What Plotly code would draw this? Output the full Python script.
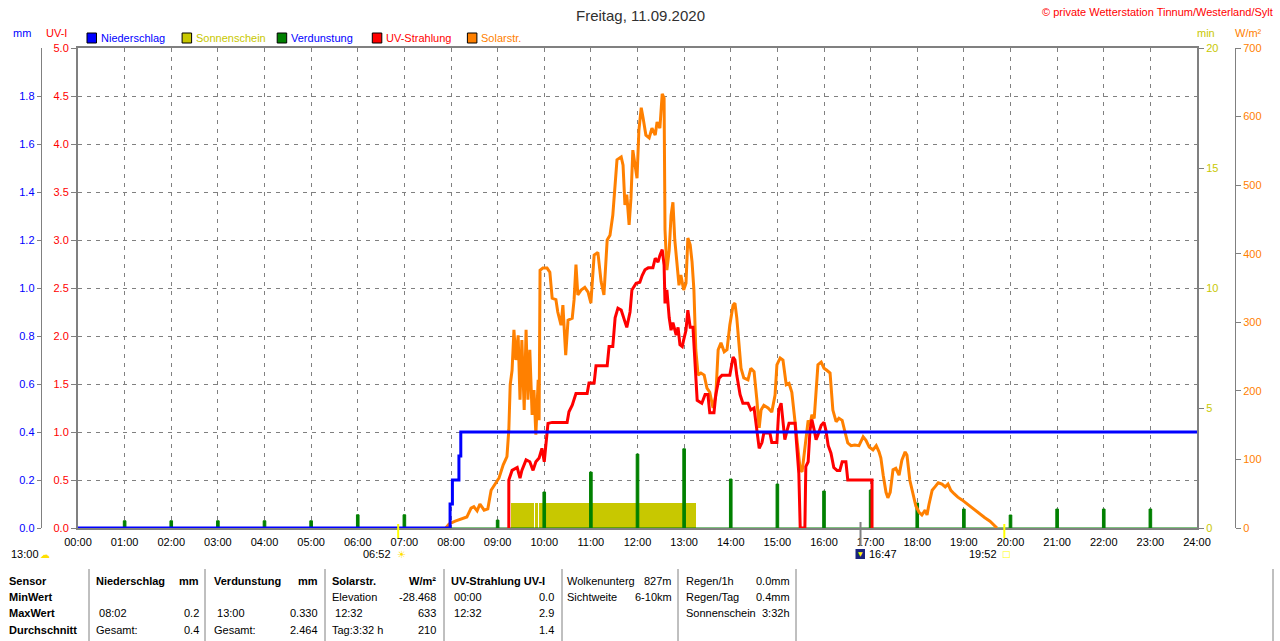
import plotly.graph_objects as go

# Wetterstation Tinnum - Tagesgang 11.09.2020, Zeit in Stunden (dezimal)

niederschlag_zeit = [0.0, 7.98, 8.03, 8.17, 8.21, 24.0]
niederschlag_mm = [0.0, 0.1, 0.2, 0.3, 0.4, 0.4]

sonne_von = [9.28, 9.80, 9.89]
sonne_bis = [9.77, 9.86, 13.25]
sonne_min = [1.04, 1.04, 1.04]

verdunstung_stunde = [0, 1, 2, 3, 4, 5, 6, 7, 8, 9, 10, 11, 12,
                      13, 14, 15, 16, 17, 18, 19, 20, 21, 22, 23, 24]
verdunstung_mm = [0.0, 0.03, 0.03, 0.03, 0.03, 0.03, 0.055, 0.055, 0.0, 0.033, 0.15, 0.233, 0.308,
                  0.33, 0.204, 0.183, 0.154, 0.158, 0.104, 0.079, 0.054, 0.079, 0.079, 0.079, 0.0]

uv_zeit = [9.24, 9.24, 9.31, 9.42, 9.48, 9.52, 9.61, 9.69, 9.76, 9.82, 9.89, 9.95, 10.00,
           10.04, 10.08, 10.17, 10.49, 10.53, 10.60, 10.68, 10.92, 10.96, 11.07, 11.11, 11.35,
           11.39, 11.47, 11.52, 11.58, 11.65, 11.71, 11.77, 11.84, 11.88, 11.97, 12.05, 12.10,
           12.16, 12.23, 12.33, 12.38, 12.44, 12.48, 12.53, 12.57, 12.59, 12.63, 12.68, 12.72,
           12.76, 12.83, 12.87, 12.91, 12.96, 12.99, 13.04, 13.08, 13.13, 13.19, 13.23, 13.28,
           13.38, 13.45, 13.51, 13.55, 13.64, 13.68, 13.75, 13.81, 13.98, 14.05, 14.09, 14.13,
           14.20, 14.26, 14.37, 14.43, 14.50, 14.56, 14.61, 14.67, 14.71, 14.84, 14.88, 14.99,
           15.03, 15.08, 15.12, 15.16, 15.21, 15.25, 15.38, 15.42, 15.46, 15.49, 15.59, 15.61,
           15.66, 15.70, 15.74, 15.79, 15.83, 15.87, 15.94, 16.00, 16.04, 16.09, 16.15, 16.21,
           16.28, 16.34, 16.39, 16.47, 16.51, 17.03, 17.03]
uv_index = [0.0, 0.5, 0.6, 0.63, 0.52, 0.6, 0.71, 0.69, 0.6, 0.69, 0.73, 0.83, 0.69,
            0.92, 1.09, 1.1, 1.1, 1.21, 1.28, 1.4, 1.4, 1.51, 1.51, 1.69, 1.69,
            1.89, 1.89, 2.19, 2.29, 2.27, 2.17, 2.09, 2.25, 2.48, 2.55, 2.56, 2.63,
            2.69, 2.71, 2.71, 2.81, 2.77, 2.84, 2.9, 2.74, 2.34, 2.48, 2.19, 2.06,
            2.14, 2.01, 2.09, 1.91, 1.89, 1.96, 2.06, 2.27, 2.09, 2.09, 1.75, 1.33,
            1.3, 1.39, 1.39, 1.2, 1.2, 1.39, 1.56, 1.59, 1.59, 1.78, 1.75, 1.59,
            1.39, 1.3, 1.3, 1.23, 1.25, 1.02, 0.83, 0.89, 0.99, 0.99, 0.89, 0.89,
            1.23, 1.3, 1.13, 0.92, 1.02, 1.09, 1.09, 0.78, 0.57, 0.0, 0.0, 0.64,
            0.69, 1.02, 1.13, 1.02, 0.92, 0.97, 1.07, 1.1, 1.02, 0.86, 0.78, 0.63,
            0.6, 0.6, 0.69, 0.69, 0.5, 0.5, 0.0]

solar_zeit = [7.89, 7.96, 8.09, 8.24, 8.34, 8.43, 8.49, 8.56, 8.62, 8.71, 8.79, 8.86,
              8.94, 9.03, 9.12, 9.20, 9.24, 9.27, 9.31, 9.35, 9.39, 9.44, 9.48, 9.52, 9.57,
              9.61, 9.65, 9.69, 9.74, 9.78, 9.82, 9.87, 9.89, 9.91, 9.97, 10.06, 10.12, 10.17,
              10.25, 10.29, 10.36, 10.40, 10.46, 10.51, 10.60, 10.64, 10.68, 10.72, 10.79,
              10.87, 10.94, 11.00, 11.07, 11.15, 11.22, 11.28, 11.35, 11.41, 11.47, 11.52,
              11.56, 11.65, 11.69, 11.73, 11.77, 11.82, 11.86, 11.90, 11.95, 11.99, 12.03,
              12.08, 12.12, 12.18, 12.25, 12.31, 12.38, 12.42, 12.48, 12.53, 12.57, 12.59,
              12.63, 12.68, 12.72, 12.76, 12.80, 12.85, 12.89, 12.93, 12.99, 13.04, 13.08,
              13.13, 13.17, 13.21, 13.25, 13.30, 13.36, 13.43, 13.49, 13.55, 13.62, 13.68,
              13.73, 13.79, 13.86, 13.92, 13.98, 14.05, 14.09, 14.13, 14.18, 14.22, 14.28,
              14.37, 14.43, 14.50, 14.56, 14.61, 14.65, 14.71, 14.80, 14.88, 14.95, 14.99,
              15.06, 15.12, 15.19, 15.25, 15.31, 15.36, 15.42, 15.49, 15.53, 15.57, 15.61,
              15.66, 15.70, 15.74, 15.79, 15.83, 15.87, 15.94, 16.00, 16.06, 16.13, 16.19,
              16.26, 16.32, 16.39, 16.45, 16.51, 16.58, 16.66, 16.75, 16.84, 16.90, 16.97,
              17.05, 17.12, 17.18, 17.22, 17.27, 17.33, 17.37, 17.42, 17.48, 17.54, 17.61,
              17.67, 17.74, 17.78, 17.84, 17.91, 17.97, 18.04, 18.10, 18.17, 18.21, 18.25,
              18.32, 18.38, 18.45, 18.53, 18.60, 18.66, 18.72, 18.79, 18.87, 18.96, 19.05,
              19.13, 19.24, 19.35, 19.45, 19.56, 19.65, 19.71]
solar_wm2 = [0, 6, 10, 13, 16, 29, 31, 25, 35, 26, 28, 55,
             64, 73, 92, 104, 143, 209, 230, 289, 245, 281, 187, 274, 172,
             289, 187, 260, 165, 201, 136, 216, 157, 376, 379, 379, 373, 335,
             333, 315, 296, 325, 252, 303, 306, 333, 384, 340, 347,
             351, 344, 328, 398, 402, 359, 340, 420, 427, 456, 508,
             537, 541, 529, 471, 486, 442, 481, 551, 529, 510, 580,
             613, 598, 573, 569, 583, 573, 592, 583, 633, 627, 435,
             376, 405, 456, 475, 420, 388, 354, 369, 347, 357, 423,
             413, 388, 347, 260, 223, 226, 223, 204, 198, 175, 194,
             260, 270, 257, 260, 296, 325, 328, 306, 267, 233, 219,
             216, 233, 228, 187, 146, 172, 179, 175, 169, 194, 238,
             248, 245, 209, 211, 198, 165, 121, 85, 82, 106, 128,
             157, 150, 165, 160, 194, 238, 242, 233, 230, 226, 172,
             155, 160, 157, 140, 124, 120, 121, 120, 133, 128, 118,
             114, 120, 111, 102, 77, 52, 44, 52, 85, 87, 77,
             99, 111, 106, 70, 48, 32, 23, 19, 26, 19, 34,
             55, 60, 66, 64, 60, 64, 55, 50, 45, 41, 36,
             32, 26, 20, 15, 10, 4, 0]

stunden_ticks = list(range(25))
stunden_text = ["%02d:00" % h for h in stunden_ticks]

legende_namen = ["Niederschlag", "Sonnenschein", "Verdunstung", "UV-Strahlung", "Solarstr."]

ereignis_zeit = [6.867, 16.783, 19.867]
ereignis_text = ["06:52", "16:47", "19:52"]
mond_text = "13:00"

# Tabelle unten: je Spalte Texte links und Werte rechts
tab_sensor = ["<b>Sensor</b>", "<b>MinWert</b>", "<b>MaxWert</b>", "<b>Durchschnitt</b>"]
tab_nied_l = ["<b>Niederschlag</b>", "", " 08:02", "Gesamt:"]
tab_nied_r = ["<b>mm</b>", "", "0.2", "0.4"]
tab_verd_l = ["<b>Verdunstung</b>", "", " 13:00", "Gesamt:"]
tab_verd_r = ["<b>mm</b>", "", "0.330", "2.464"]
tab_sol_l = ["<b>Solarstr.</b>", "Elevation", " 12:32", "Tag:3:32 h"]
tab_sol_r = ["<b>W/m²</b>", "-28.468", "633", "210"]
tab_uv_l = ["<b>UV-Strahlung UV-I</b>", " 00:00", " 12:32", ""]
tab_uv_r = ["", "0.0", "2.9", "1.4"]
tab_wolke_l = ["Wolkenunterg", "Sichtweite", "", ""]
tab_wolke_r = ["827m", "6-10km", "", ""]
tab_regen_l = ["Regen/1h", "Regen/Tag", "Sonnenschein", ""]
tab_regen_r = ["0.0mm", "0.4mm", "3:32h", ""]

BLAU = "#0000FF"
OLIV = "#C8C800"
GRUEN = "#008000"
ROT = "#FF0000"
ORANGE = "#FF8000"
GRAU = "#808080"

W, H = 1280, 641
FONT = "Liberation Sans, Arial, sans-serif"
FS = 11


def px(x):
    return x / W


def py(y):
    return 1 - y / H


def spikes(stunden, werte, breite=0.028):
    xs, ys = [], []
    for h, v in zip(stunden, werte):
        xs += [h - breite, h - breite, h + breite, h + breite]
        ys += [0, v, v, 0]
    return xs, ys


def text(fig, x, y, s, color="black", size=FS, anchor="left", family=FONT):
    fig.add_annotation(x=x, y=py(y), xref="paper", yref="paper", text=s, showarrow=False,
                       xanchor=anchor, yanchor="middle", borderpad=0,
                       font=dict(family=family, size=size, color=color))


def build_figure():
    fig = go.Figure()

    # Sonnenschein (min)
    fig.add_trace(go.Bar(x=[(a + b) / 2 for a, b in zip(sonne_von, sonne_bis)],
                         y=sonne_min,
                         width=[b - a for a, b in zip(sonne_von, sonne_bis)],
                         marker=dict(color=OLIV, line=dict(width=0)),
                         yaxis="y", name="Sonnenschein"))

    # Verdunstung (mm)
    vx, vy = spikes(verdunstung_stunde, verdunstung_mm)
    fig.add_trace(go.Scatter(x=vx, y=vy, mode="lines", fill="tozeroy",
                             line=dict(color=GRUEN, width=1), fillcolor=GRUEN,
                             yaxis="y2", name="Verdunstung"))

    # Solarstrahlung (W/m2)
    fig.add_trace(go.Scatter(x=solar_zeit, y=solar_wm2, mode="lines",
                             line=dict(color=ORANGE, width=3), yaxis="y3", name="Solarstr."))

    # UV
    fig.add_trace(go.Scatter(x=uv_zeit, y=uv_index, mode="lines",
                             line=dict(color=ROT, width=3), yaxis="y4", name="UV-Strahlung"))

    # Niederschlag
    fig.add_trace(go.Scatter(x=niederschlag_zeit, y=niederschlag_mm, mode="lines",
                             line=dict(color=BLAU, width=3, shape="hv"), yaxis="y5",
                             name="Niederschlag"))

    tick_font = dict(family=FONT, size=FS)
    fig.update_layout(
        width=W, height=H,
        margin=dict(l=0, r=0, t=0, b=0, pad=0, autoexpand=False),
        paper_bgcolor="white", plot_bgcolor="white",
        showlegend=False, barmode="overlay", bargap=0,
        xaxis=dict(domain=[px(78), px(1197)], range=[0, 24], tickvals=stunden_ticks,
                   ticktext=stunden_text, showgrid=True, gridcolor=GRAU, griddash="4px,5px",
                   gridwidth=1, showline=True, linecolor=GRAU, linewidth=2, mirror=True,
                   ticks="outside", ticklen=3, tickcolor="rgba(0,0,0,0)", automargin=False,
                   tickfont=dict(tick_font, color="black"), zeroline=False, fixedrange=True),
        yaxis=dict(domain=[py(528), py(48)], range=[0, 20], side="right", anchor="x",
                   tickvals=[0, 5, 10, 15, 20], showgrid=False, zeroline=False, automargin=False,
                   showline=True, linecolor=GRAU, linewidth=2, ticks="outside", ticklen=5,
                   tickcolor=GRAU, tickfont=dict(tick_font, color=OLIV)),
        yaxis2=dict(overlaying="y", range=[0, 2], anchor="free", position=px(40.7), side="left",
                    tickvals=[0, 0.2, 0.4, 0.6, 0.8, 1.0, 1.2, 1.4, 1.6, 1.8], tickformat=".1f",
                    showgrid=False, zeroline=False, showline=True, linecolor=GRAU, linewidth=1,
                    ticks="outside", ticklen=4, tickcolor=GRAU, automargin=False,
                    tickfont=dict(tick_font, color=BLAU)),
        yaxis3=dict(overlaying="y", range=[0, 700], anchor="free", position=px(1235), side="right",
                    dtick=100, showgrid=False, zeroline=False, showline=True, linecolor=GRAU,
                    linewidth=1, ticks="outside", ticklen=5, tickcolor=GRAU, automargin=False,
                    tickfont=dict(tick_font, color=ORANGE)),
        yaxis4=dict(overlaying="y", range=[0, 5], anchor="x", side="left", dtick=0.5, tick0=0,
                    tickformat=".1f", showgrid=True, gridcolor=GRAU, griddash="4px,5px",
                    gridwidth=1, zeroline=False, showline=True, linecolor=GRAU, linewidth=2,
                    ticks="outside", ticklen=5, tickcolor=GRAU, automargin=False,
                    tickfont=dict(tick_font, color=ROT)),
        yaxis5=dict(overlaying="y", range=[0, 2], visible=False),
    )

    # Titel und Copyright
    text(fig, 0.5, 15, "Freitag, 11.09.2020", color="#303030", size=15, anchor="center")
    text(fig, px(1274), 12, "© private Wetterstation Tinnum/Westerland/Sylt", color=ROT,
         size=11, anchor="right")

    # Achsentitel
    text(fig, px(22), 33, "mm", BLAU, anchor="center")
    text(fig, px(56), 33, "UV-I", ROT, anchor="center")
    text(fig, px(1206), 33, "min", OLIV, anchor="center")
    text(fig, px(1248), 33, "W/m²", ORANGE, anchor="center")

    # Legende
    box_farben = [BLAU, OLIV, GRUEN, ROT, ORANGE]
    text_farben = [BLAU, OLIV, BLAU, ROT, ORANGE]
    for i, name in enumerate(legende_namen):
        x0 = 87 + i * 95.1
        fig.add_shape(type="rect", xref="paper", yref="paper",
                      x0=px(x0), x1=px(x0 + 9.5), y0=py(43), y1=py(33),
                      fillcolor=box_farben[i], line=dict(color="black", width=1))
        text(fig, px(x0 + 13), 38, name, text_farben[i])

    # Sonnenaufgang / -untergang, Mond
    zeile = 554
    for t in [ereignis_zeit[0], ereignis_zeit[2]]:
        fig.add_shape(type="line", xref="x", yref="paper", x0=t, x1=t, y0=py(524), y1=py(538),
                      line=dict(color="#FFFF00", width=2))
    fig.add_shape(type="line", xref="x", yref="paper", x0=ereignis_zeit[1], x1=ereignis_zeit[1],
                  y0=py(522), y1=py(546), line=dict(color=GRAU, width=2))
    fig.add_shape(type="rect", xref="paper", yref="paper", x0=px(855.5), x1=px(865),
                  y0=py(zeile + 5), y1=py(zeile - 5), fillcolor="#1A237E", line=dict(width=0))
    text(fig, px(860.3), zeile - 1, "▼", "#FFFF00", size=6, anchor="center",
         family="DejaVu Sans, sans-serif")
    text(fig, px(392), zeile, ereignis_text[0], anchor="right")
    text(fig, px(401.5), zeile, "☀", "#FFE000", size=10, anchor="center",
         family="DejaVu Sans, sans-serif")
    text(fig, px(868), zeile, ereignis_text[1], anchor="left")
    text(fig, px(998), zeile, ereignis_text[2], anchor="right")
    text(fig, px(1006.5), zeile, "□", "#FFFF00", size=9, anchor="center",
         family="DejaVu Sans, sans-serif")
    text(fig, px(10), zeile, mond_text, anchor="left")
    text(fig, px(45), zeile, "☁", "#FFE000", size=10, anchor="center",
         family="DejaVu Sans, sans-serif")

    # Tabelle
    for x in [89, 205, 325, 444, 562, 678, 796, 1273]:
        fig.add_shape(type="line", xref="paper", yref="paper", x0=px(x), x1=px(x),
                      y0=py(569), y1=py(641), line=dict(color=GRAU, width=1))
    zeilen_y = [581, 597, 613, 630]
    spalten = [
        (8, None, tab_sensor, None),
        (95, 200, tab_nied_l, tab_nied_r),
        (213, 319, tab_verd_l, tab_verd_r),
        (331, 437, tab_sol_l, tab_sol_r),
        (450, 555, tab_uv_l, tab_uv_r),
        (566, 673, tab_wolke_l, tab_wolke_r),
        (685, 791, tab_regen_l, tab_regen_r),
    ]
    for xl, xr, links, rechts in spalten:
        for j, y in enumerate(zeilen_y):
            if links[j]:
                text(fig, px(xl), y, links[j])
            if rechts is not None and rechts[j]:
                text(fig, px(xr), y, rechts[j], anchor="right")

    return fig


def main():
    fig = build_figure()
    # Seite ohne Rand, damit die 1280x641 Grafik genau ins Fenster passt
    fig.write_html("out.html", config={"displayModeBar": False},
                   post_script="document.body.style.margin='0';document.body.style.overflow='hidden';")


if __name__ == "__main__":
    main()
